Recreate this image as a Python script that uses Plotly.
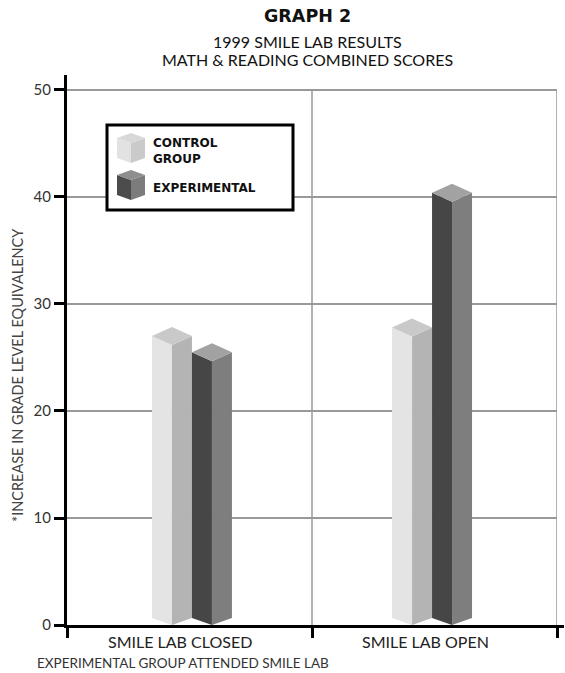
import plotly.graph_objects as go

# ---------------- data ----------------
categories = ["SMILE LAB CLOSED", "SMILE LAB OPEN"]
control_group = [27.0, 27.8]
experimental = [25.5, 40.4]
y_ticks = [0, 10, 20, 30, 40, 50]
series_names = ["CONTROL<br>GROUP", "EXPERIMENTAL"]
title_lines = ["GRAPH 2", "1999 SMILE LAB RESULTS", "MATH & READING COMBINED SCORES"]
y_title = "*INCREASE IN GRADE LEVEL EQUIVALENCY"
x_note = "EXPERIMENTAL GROUP ATTENDED SMILE LAB"

# ---------------- layout constants ----------------
W, H = 565, 673
L, R, T, B = 67, 8, 75, 48
PW, PH = W - L - R, H - T - B
Y_MAX = 51.4
group_centers = [0.51, 1.49]
half = 0.0816          # width of one visible face in x units
d_top = 0.84           # isometric slant of the top (y units)
d_bot = 0.65           # isometric slant of the bottom


def px(x):
    return (x - L) / PW


def py(y):
    return (H - B - y) / PH


light = dict(left="#e4e4e4", right="#b4b4b4", top="#c9c9c9")
dark = dict(left="#464646", right="#7e7e7e", top="#a2a2a2")


def box_faces(front_xs, values):
    lx, ly, rx, ry, tx, ty = [], [], [], [], [], []
    for f, v in zip(front_xs, values):
        lx += [f - half, f - half, f, f, f - half, None]
        ly += [d_bot, v, v - d_top, 0, d_bot, None]
        rx += [f, f, f + half, f + half, f, None]
        ry += [0, v - d_top, v, d_bot, 0, None]
        tx += [f - half, f, f + half, f, f - half, None]
        ty += [v, v + d_top, v, v - d_top, v, None]
    return (lx, ly), (rx, ry), (tx, ty)


fig = go.Figure()

for offset, vals, col in [(-half, control_group, light), (half, experimental, dark)]:
    fronts = [c + offset for c in group_centers]
    faces = box_faces(fronts, vals)
    for (xs, ys), key in zip(faces, ["left", "right", "top"]):
        fig.add_trace(go.Scatter(
            x=xs, y=ys, mode="lines", fill="toself", fillcolor=col[key],
            line=dict(width=0, color=col[key]), hoverinfo="skip", showlegend=False))

shapes = []
# vertical grid lines at category boundaries
for xv in [1, 2]:
    shapes.append(dict(type="line", xref="x", yref="y", x0=xv, x1=xv, y0=0, y1=50,
                       line=dict(color="#999999", width=1.5), layer="below"))

# x axis line runs a little past the last tick
shapes.append(dict(type="line", xref="paper", yref="paper", x0=1.0, x1=px(564),
                   y0=py(626.5), y1=py(626.5), line=dict(color="black", width=3), layer="above"))

# custom legend box
shapes.append(dict(type="rect", xref="paper", yref="paper",
                   x0=px(107), x1=px(293), y0=py(210), y1=py(125),
                   fillcolor="white", line=dict(color="black", width=3), layer="above"))


def cube(left, top, cols, w=28, h=5, hh=20):
    pts = {
        "top": [(left, top + h), (left + w / 2, top), (left + w, top + h), (left + w / 2, top + 2 * h)],
        "left": [(left, top + h), (left + w / 2, top + 2 * h), (left + w / 2, top + 2 * h + hh), (left, top + h + hh)],
        "right": [(left + w / 2, top + 2 * h), (left + w, top + h), (left + w, top + h + hh), (left + w / 2, top + 2 * h + hh)],
    }
    out = []
    for k in ["left", "right", "top"]:
        p = "M " + " L ".join(f"{px(a):.5f},{py(b):.5f}" for a, b in pts[k]) + " Z"
        out.append(dict(type="path", xref="paper", yref="paper", path=p,
                        fillcolor=cols[k], line=dict(width=0), layer="above"))
    return out


leg_light = dict(left="#e2e2e2", right="#cacaca", top="#d8d8d8")
leg_dark = dict(left="#4c4c4c", right="#7c7c7c", top="#8e8e8e")
shapes += cube(117, 133, leg_light)
shapes += cube(117, 170, leg_dark)

annotations = []
title_fonts = [dict(family="DejaVu Sans", size=17.5, color="#111", weight="bold"),
               dict(family="Lato", size=16, color="#111"),
               dict(family="Lato", size=16, color="#111")]
for txt, yp, fnt in zip(title_lines, [16, 41, 60], title_fonts):
    annotations.append(dict(text=txt, xref="paper", yref="paper", x=px(307), y=py(yp),
                            xanchor="center", yanchor="middle", showarrow=False, font=fnt))

legend_font = dict(family="DejaVu Sans", size=12, color="#111", weight="bold")
for name, yp in zip(series_names, [151, 188]):
    annotations.append(dict(text=name, xref="paper", yref="paper", x=px(151), y=py(yp),
                            xanchor="left", yanchor="middle", align="left", showarrow=False,
                            font=legend_font))

label_pos = [0.46, 1.465]
for cat, xv in zip(categories, label_pos):
    annotations.append(dict(text=cat, xref="x", yref="paper", x=xv, y=py(641),
                            xanchor="center", yanchor="middle", showarrow=False,
                            font=dict(family="Lato", size=16, color="#222")))

annotations.append(dict(text=x_note, xref="paper", yref="paper", x=px(35), y=py(663),
                        xanchor="left", yanchor="middle", showarrow=False,
                        font=dict(family="Lato", size=13.5, color="#333")))

annotations.append(dict(text=y_title, xref="paper", yref="paper", x=px(17), y=py(375),
                        xanchor="center", yanchor="middle", textangle=-90, showarrow=False,
                        font=dict(family="Lato", size=14.5, color="#444")))

fig.update_layout(
    width=W, height=H,
    margin=dict(l=L, r=R, t=T, b=B),
    paper_bgcolor="white", plot_bgcolor="white",
    showlegend=False,
    shapes=shapes,
    annotations=annotations,
    xaxis=dict(range=[0, 2], showgrid=False, zeroline=False, showline=True,
               linecolor="black", linewidth=3, tickmode="array", tickvals=[0, 1, 2],
               ticktext=["", "", ""], ticks="outside", ticklen=10, tickwidth=3,
               tickcolor="black", fixedrange=True),
    yaxis=dict(range=[0, Y_MAX], tickmode="array", tickvals=y_ticks,
               ticks="outside", ticklen=10, tickwidth=3, tickcolor="black",
               showline=True, linecolor="black", linewidth=3,
               showgrid=True, gridcolor="#999999", gridwidth=1.5, zeroline=False,
               tickfont=dict(family="Lato", size=15, color="#333"), fixedrange=True),
)

fig.write_html("out.html", config={"displayModeBar": False},
               post_script="document.body.style.margin='0';document.body.style.overflow='hidden';")
